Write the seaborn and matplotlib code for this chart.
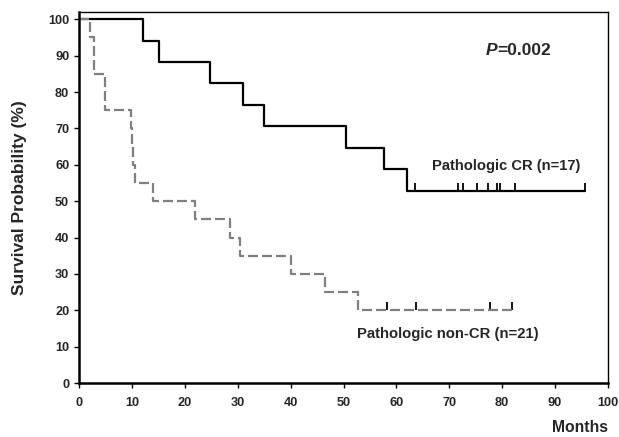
import numpy as np
import pandas as pd
from matplotlib import pyplot as plt
import seaborn as sns

sns.set_style("white")
plt.rcParams['font.family'] = ['Liberation Sans', 'DejaVu Sans']
plt.rcParams['font.weight'] = 'bold'

# Kaplan-Meier steps (months, survival %)
cr_time = [0, 12.1, 15.2, 24.8, 31.0, 35.0, 50.5, 57.7, 62.0, 95.7]
cr_surv = [100, 94.1, 88.2, 82.4, 76.5, 70.6, 64.7, 58.8, 52.9, 52.9]
cr_censor = [63.5, 71.6, 72.5, 75.3, 77.4, 79.0, 79.5, 82.4, 95.7]

noncr_time = [0, 2.1, 2.8, 4.9, 9.8, 10.0, 10.3, 10.6, 13.9, 22.0, 28.5, 30.5,
              40.0, 46.5, 52.8, 81.8]
noncr_surv = [100, 95, 85, 75, 70, 65, 60, 55, 50, 45, 40, 35, 30, 25, 20, 20]
noncr_censor = [58.2, 63.7, 77.6, 81.8]

x_ticks = list(range(0, 101, 10))
y_ticks = list(range(0, 101, 10))


def surv_at(times, survs, t):
    idx = np.searchsorted(times, t, side='right') - 1
    return survs[idx]


cr = pd.DataFrame({"Months": cr_time, "Survival": cr_surv})
noncr = pd.DataFrame({"Months": noncr_time, "Survival": noncr_surv})

fig = plt.figure(figsize=(6.19, 4.37), dpi=100)
ax = fig.add_axes([79 / 619, 54 / 437, 529 / 619, 371 / 437])

sns.lineplot(data=cr, x="Months", y="Survival", ax=ax, color="black",
             linewidth=1.6, drawstyle="steps-post", estimator=None, sort=False)
sns.lineplot(data=noncr, x="Months", y="Survival", ax=ax, color="#808080",
             linewidth=1.6, drawstyle="steps-post", estimator=None, sort=False,
             dashes=False, linestyle=(0, (4.5, 1.8)))

ax.scatter(cr_censor, [surv_at(cr_time, cr_surv, t) for t in cr_censor],
           marker=2, s=30, color="black", linewidths=1.3)
ax.scatter(noncr_censor, [surv_at(noncr_time, noncr_surv, t) for t in noncr_censor],
           marker=2, s=30, color="black", linewidths=1.3)

ptxt = ax.text(76.9, 90.1, "P", fontsize=12.5, va="baseline", ha="left",
               fontweight="bold", fontstyle="italic")
ax.annotate("=0.002", xy=(1, 0), xycoords=ptxt, va="bottom", ha="left",
            fontsize=12.5, fontweight="bold")
ax.text(66.7, 58.5, "Pathologic CR (n=17)", fontsize=10.6, va="baseline",
        fontweight="bold")
ax.text(52.5, 12.3, "Pathologic non-CR (n=21)", fontsize=10.7, va="baseline",
        fontweight="bold")

ax.set_xlim(0, 100)
ax.set_ylim(0, 102)
ax.set_xticks(x_ticks)
ax.set_yticks(y_ticks)
ax.tick_params(axis="both", direction="out", length=3.5, width=1,
               labelsize=9.2, color="black", left=True, bottom=True)
ax.tick_params(axis="x", pad=6.5)
ax.tick_params(axis="y", pad=3.5)
for lab in ax.get_xticklabels() + ax.get_yticklabels():
    lab.set_fontweight("bold")

ax.set_xlabel("Months", fontsize=11.3, fontweight="bold", loc="right",
              labelpad=8)
ax.set_ylabel("Survival Probability (%)", fontsize=12.5, fontweight="bold",
              labelpad=15)

for side in ["left", "bottom"]:
    ax.spines[side].set_linewidth(1.8)
for side in ["top", "right"]:
    ax.spines[side].set_linewidth(1.0)
for s in ax.spines.values():
    s.set_color("black")

fig.savefig("out.png", dpi=100)
